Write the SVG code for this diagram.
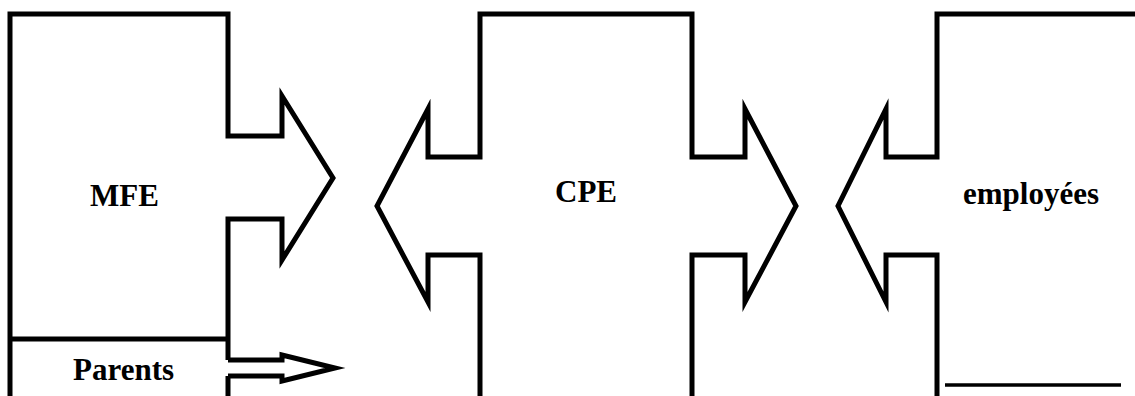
<svg xmlns="http://www.w3.org/2000/svg" width="1135" height="396" viewBox="0 0 1135 396">
<style>
.s{fill:none;stroke:#000;stroke-width:5;stroke-miterlimit:10;stroke-linejoin:miter}
text{font-family:'Liberation Serif','Times New Roman',Times,serif;font-weight:700;font-size:31px;fill:#000}
</style>
<rect width="1135" height="396" fill="#fff"/>
<g id="mfe">
<path class="s" d="M10,398 V14 H228 V136 H282 V96 L333,178 L282,260 V219 H228 V360"/>
<text x="90" y="206" font-family="Liberation Serif, serif">MFE</text>
</g>
<g id="parents">
<path class="s" d="M10,339 H228 M228,376 V398"/>
<text x="73" y="380" font-family="Liberation Serif, serif">Parents</text>
</g>
<g id="cpe">
<path class="s" d="M480,398 V255 H428 V302 L377,206 L428,109 V157 H480 V14 H692 V157 H745 V109 L796,206 L745,302 V255 H692 V398"/>
<text x="555" y="202" font-family="Liberation Serif, serif">CPE</text>
</g>
<g id="employees">
<path class="s" d="M1140,14 H937 V157 H886 V109 L838,206 L886,302 V255 H937 V398"/>
<line x1="945" y1="385" x2="1121" y2="385" stroke="#000" stroke-width="3.5"/>
<text x="963" y="204" font-family="Liberation Serif, serif">employées</text>
</g>
<g id="connectors">
<path class="s" d="M228,360 H282 V355 L335,368 L282,381 V376 H228"/>
</g>
</svg>
